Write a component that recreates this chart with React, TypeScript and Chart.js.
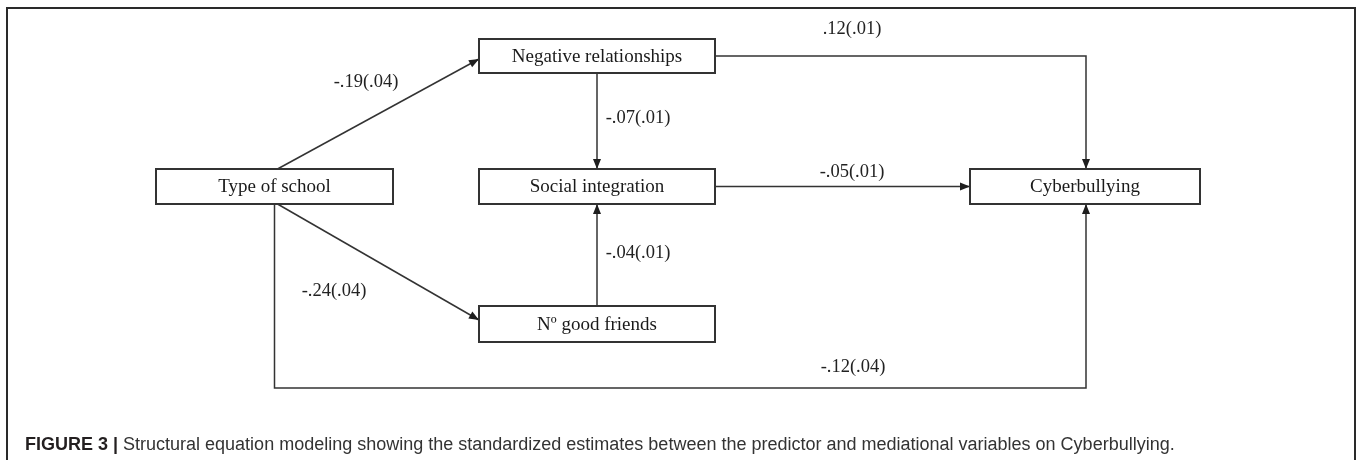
import React, { useEffect, useRef } from "react";
import { Chart, registerables } from "chart.js";

Chart.register(...registerables);

// Nodes of the path model (diagram units = pixels of the 1357x460 figure)
const NODE_LABELS = ["Type of school", "Negative relationships", "Social integration", "Nº good friends", "Cyberbullying"];
const NODE_X = [274.5, 597, 597, 597, 1085];
const NODE_Y = [186.5, 56, 186.5, 324, 186.5];
const NODE_HALF_W = [118.5, 118, 118, 118, 115];
const NODE_HALF_H = [17.5, 17, 17.5, 18, 17.5];

// Paths and standardized estimates
const EDGE_FROM = [0, 0, 1, 3, 1, 2, 0];
const EDGE_TO = [1, 3, 2, 2, 4, 4, 4];
const EDGE_ROUTE = ["diag-up", "diag-down", "down", "up", "right-down", "right", "loop"];
const EDGE_COEF = ["-.19(.04)", "-.24(.04)", "-.07(.01)", "-.04(.01)", ".12(.01)", "-.05(.01)", "-.12(.04)"];
const LABEL_X = [366, 334, 638, 638, 852, 852, 853];
const LABEL_Y = [82, 291, 118, 253, 29, 172, 367];
const LOOP_Y = 388;

const CAPTION_BOLD = "FIGURE 3 | ";
const CAPTION_TEXT = "Structural equation modeling showing the standardized estimates between the predictor and mediational variables on Cyberbullying.";

type P = { x: number; y: number };

function edgePoints(i: number): P[] {
  const f = EDGE_FROM[i];
  const t = EDGE_TO[i];
  const fx = NODE_X[f], fy = NODE_Y[f], fw = NODE_HALF_W[f], fh = NODE_HALF_H[f];
  const tx = NODE_X[t], ty = NODE_Y[t], tw = NODE_HALF_W[t], th = NODE_HALF_H[t];
  switch (EDGE_ROUTE[i]) {
    case "diag-up":
      return [{ x: fx + 3, y: fy - fh }, { x: tx - tw, y: ty + 3 }];
    case "diag-down":
      return [{ x: fx + 3, y: fy + fh }, { x: tx - tw, y: ty - 4 }];
    case "down":
      return [{ x: fx, y: fy + fh }, { x: tx, y: ty - th }];
    case "up":
      return [{ x: fx, y: fy - fh }, { x: tx, y: ty + th }];
    case "right-down":
      return [{ x: fx + fw, y: fy }, { x: tx + 1, y: fy }, { x: tx + 1, y: ty - th }];
    case "right":
      return [{ x: fx + fw, y: fy }, { x: tx - tw, y: ty }];
    case "loop":
    default:
      return [{ x: fx, y: fy + fh }, { x: fx, y: LOOP_Y }, { x: tx + 1, y: LOOP_Y }, { x: tx + 1, y: ty + th }];
  }
}

const diagramPlugin = {
  id: "pathDiagram",
  beforeDatasetsDraw(chart: any) {
    const { ctx, scales } = chart;
    const X = (v: number) => scales.x.getPixelForValue(v);
    const Y = (v: number) => scales.y.getPixelForValue(v);
    ctx.save();
    // outer figure frame
    ctx.strokeStyle = "#2a2a2a";
    ctx.lineWidth = 2;
    ctx.beginPath();
    ctx.moveTo(X(7), Y(470));
    ctx.lineTo(X(7), Y(8));
    ctx.lineTo(X(1355), Y(8));
    ctx.lineTo(X(1355), Y(470));
    ctx.stroke();
    ctx.restore();
  },
  afterDatasetsDraw(chart: any) {
    const { ctx, scales } = chart;
    const X = (v: number) => scales.x.getPixelForValue(v);
    const Y = (v: number) => scales.y.getPixelForValue(v);
    ctx.save();
    // arrowheads
    ctx.fillStyle = "#1e1e1e";
    for (let i = 0; i < EDGE_FROM.length; i++) {
      const pts = edgePoints(i);
      const a = pts[pts.length - 2];
      const b = pts[pts.length - 1];
      const ax = X(a.x), ay = Y(a.y), bx = X(b.x), by = Y(b.y);
      const ang = Math.atan2(by - ay, bx - ax);
      const len = 10, hw = 4;
      ctx.beginPath();
      ctx.moveTo(bx, by);
      ctx.lineTo(bx - len * Math.cos(ang) + hw * Math.sin(ang), by - len * Math.sin(ang) - hw * Math.cos(ang));
      ctx.lineTo(bx - len * Math.cos(ang) - hw * Math.sin(ang), by - len * Math.sin(ang) + hw * Math.cos(ang));
      ctx.closePath();
      ctx.fill();
    }
    // boxes
    for (let i = 0; i < NODE_LABELS.length; i++) {
      const l = X(NODE_X[i] - NODE_HALF_W[i]);
      const r = X(NODE_X[i] + NODE_HALF_W[i]);
      const t = Y(NODE_Y[i] - NODE_HALF_H[i]);
      const b = Y(NODE_Y[i] + NODE_HALF_H[i]);
      ctx.fillStyle = "#ffffff";
      ctx.fillRect(l, t, r - l, b - t);
      ctx.strokeStyle = "#333333";
      ctx.lineWidth = 2;
      ctx.strokeRect(l, t, r - l, b - t);
      ctx.fillStyle = "#1a1a1a";
      ctx.font = "19px 'Liberation Serif', 'Times New Roman', serif";
      ctx.textAlign = "center";
      ctx.textBaseline = "middle";
      ctx.fillText(NODE_LABELS[i], X(NODE_X[i]), Y(NODE_Y[i]) + 1);
    }
    // coefficients
    ctx.fillStyle = "#222222";
    ctx.font = "18.5px 'Liberation Serif', 'Times New Roman', serif";
    ctx.textAlign = "center";
    ctx.textBaseline = "middle";
    for (let i = 0; i < EDGE_COEF.length; i++) {
      ctx.fillText(EDGE_COEF[i], X(LABEL_X[i]), Y(LABEL_Y[i]));
    }
    // caption
    ctx.textAlign = "left";
    ctx.textBaseline = "alphabetic";
    ctx.font = "bold 18px 'Liberation Sans', Arial, sans-serif";
    ctx.fillStyle = "#231f20";
    const cx = X(25), cy = Y(450);
    ctx.fillText(CAPTION_BOLD, cx, cy);
    const w = ctx.measureText(CAPTION_BOLD).width;
    ctx.font = "18px 'Liberation Sans', Arial, sans-serif";
    ctx.fillStyle = "#333333";
    ctx.fillText(CAPTION_TEXT, cx + w, cy);
    ctx.restore();
  },
};

export default function App() {
  const ref = useRef<HTMLCanvasElement | null>(null);
  useEffect(() => {
    if (!ref.current) return;
    const datasets = EDGE_FROM.map((_, i) => ({
      label: EDGE_COEF[i],
      data: edgePoints(i),
      showLine: true,
      borderColor: "#333333",
      borderWidth: 1.5,
      pointRadius: 0,
      pointHoverRadius: 0,
      fill: false,
      tension: 0,
    }));
    const chart = new Chart(ref.current, {
      type: "scatter",
      data: { datasets },
      options: {
        responsive: false,
        animation: false,
        devicePixelRatio: 1,
        layout: { padding: 0 },
        plugins: { legend: { display: false }, tooltip: { enabled: false } },
        scales: {
          x: { type: "linear", min: 0, max: 1357, display: false },
          y: { type: "linear", min: 0, max: 460, reverse: true, display: false },
        },
      },
      plugins: [diagramPlugin],
    } as any);
    return () => chart.destroy();
  }, []);
  return (
    <div style={{ position: "fixed", left: 0, top: 0, width: 1357, height: 460, background: "#fff" }}>
      <canvas ref={ref} width={1357} height={460} style={{ display: "block" }} />
    </div>
  );
}
